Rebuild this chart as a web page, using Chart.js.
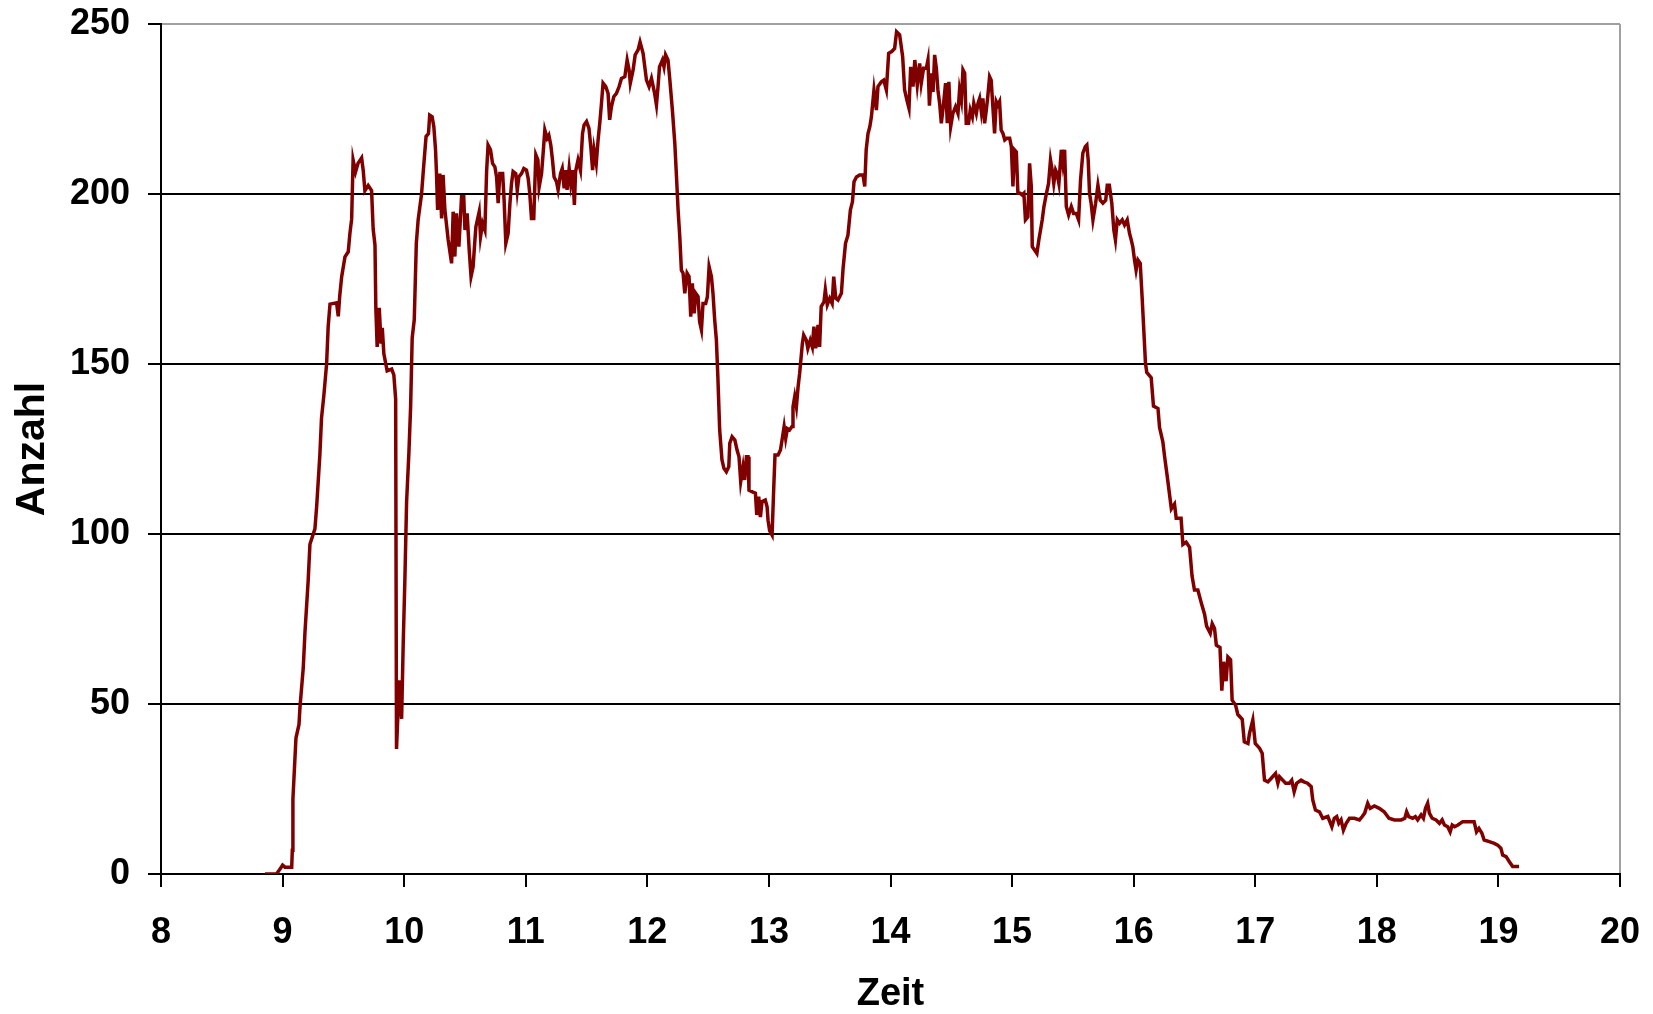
<!DOCTYPE html>
<html>
<head>
<meta charset="utf-8">
<script src="https://cdn.jsdelivr.net/npm/chart.js@4.4.1/dist/chart.umd.min.js"></script>
<style>
  html, body { margin: 0; padding: 0; background: #fff; overflow: hidden; }
  #wrap { width: 1653px; height: 1014px; position: relative; }
  canvas { display: block; }
</style>
</head>
<body>
<div id="wrap"><canvas id="c"></canvas></div>
<script>
// Zeit (hours) and Anzahl values
const zeit = [
8.855,8.95,8.97,9.0,9.02,9.075,9.08,9.085,9.11,9.135,9.143,9.17,9.184,9.21,9.225,9.266,9.28,9.307,9.32,9.34,
9.362,9.375,9.39,9.444,9.458,9.47,9.486,9.513,9.54,9.554,9.568,9.58,9.6,9.62,9.65,9.663,9.677,9.704,9.732,9.745,
9.76,9.767,9.778,9.795,9.81,9.82,9.833,9.86,9.897,9.915,9.93,9.937,9.96,9.979,9.992,10.006,10.02,10.039,10.053,10.066,
10.083,10.1,10.115,10.143,10.157,10.18,10.2,10.21,10.23,10.244,10.258,10.266,10.275,10.293,10.308,10.32,10.335,10.362,10.39,10.403,
10.417,10.43,10.45,10.472,10.49,10.5,10.518,10.535,10.55,10.567,10.58,10.59,10.617,10.628,10.645,10.664,10.678,10.69,10.71,10.727,
10.746,10.76,10.773,10.787,10.81,10.822,10.836,10.855,10.87,10.883,10.896,10.918,10.93,10.943,10.965,10.984,11.006,11.02,11.033,11.047,
11.066,11.075,11.083,11.1,11.11,11.13,11.143,11.157,11.176,11.19,11.206,11.22,11.233,11.253,11.266,11.286,11.3,11.316,11.33,11.34,
11.357,11.37,11.385,11.4,11.41,11.43,11.45,11.467,11.48,11.5,11.52,11.535,11.55,11.562,11.58,11.595,11.61,11.623,11.636,11.658,
11.677,11.69,11.705,11.724,11.746,11.768,11.787,11.815,11.834,11.85,11.86,11.883,11.9,11.924,11.94,11.965,11.993,12.014,12.034,12.06,
12.075,12.088,12.1,12.124,12.137,12.15,12.17,12.184,12.206,12.226,12.24,12.253,12.267,12.28,12.294,12.308,12.327,12.343,12.357,12.37,
12.385,12.398,12.417,12.43,12.445,12.458,12.48,12.494,12.508,12.527,12.54,12.554,12.568,12.58,12.595,12.614,12.63,12.65,12.67,12.678,
12.697,12.72,12.738,12.754,12.768,12.787,12.8,12.815,12.828,12.836,12.864,12.889,12.9,12.916,12.93,12.943,12.97,12.985,12.993,13.006,
13.026,13.04,13.05,13.075,13.095,13.11,13.125,13.138,13.152,13.17,13.19,13.198,13.212,13.226,13.24,13.253,13.275,13.286,13.308,13.32,
13.34,13.357,13.37,13.385,13.404,13.417,13.43,13.453,13.464,13.48,13.5,13.52,13.533,13.55,13.568,13.596,13.61,13.63,13.65,13.67,
13.687,13.7,13.72,13.746,13.774,13.788,13.8,13.815,13.83,13.843,13.864,13.884,13.897,13.925,13.944,13.966,13.985,14.01,14.034,14.05,
14.075,14.1,14.116,14.135,14.152,14.166,14.185,14.2,14.22,14.24,14.253,14.272,14.295,14.308,14.32,14.336,14.35,14.363,14.377,14.39,
14.404,14.418,14.437,14.453,14.467,14.48,14.495,14.513,14.535,14.555,14.568,14.583,14.596,14.61,14.623,14.642,14.656,14.673,14.685,14.706,
14.72,14.733,14.747,14.76,14.774,14.788,14.8,14.815,14.828,14.84,14.856,14.87,14.883,14.897,14.91,14.925,14.94,14.957,14.98,14.994,
15.007,15.02,15.035,15.048,15.067,15.084,15.097,15.11,15.13,15.144,15.158,15.166,15.185,15.204,15.22,15.234,15.248,15.262,15.28,15.3,
15.316,15.33,15.343,15.358,15.37,15.385,15.405,15.418,15.432,15.446,15.465,15.487,15.506,15.528,15.547,15.563,15.582,15.602,15.615,15.626,
15.637,15.65,15.665,15.687,15.706,15.725,15.747,15.77,15.783,15.8,15.82,15.837,15.85,15.865,15.884,15.906,15.925,15.947,15.966,15.98,
15.993,16.007,16.02,16.035,16.054,16.07,16.083,16.097,16.108,16.144,16.163,16.2,16.213,16.24,16.254,16.28,16.295,16.31,16.336,16.35,
16.39,16.405,16.432,16.46,16.48,16.5,16.528,16.555,16.583,16.6,16.63,16.646,16.665,16.68,16.71,16.725,16.74,16.76,16.775,16.797,
16.81,16.838,16.857,16.893,16.91,16.94,16.953,16.98,17.0,17.035,17.057,17.076,17.104,17.13,17.167,17.186,17.2,17.226,17.25,17.28,
17.3,17.32,17.34,17.377,17.4,17.43,17.46,17.473,17.495,17.528,17.555,17.597,17.63,17.65,17.67,17.687,17.706,17.725,17.748,17.775,
17.816,17.857,17.88,17.9,17.925,17.945,17.98,18.02,18.06,18.1,18.144,18.2,18.23,18.245,18.262,18.295,18.317,18.336,18.364,18.383,
18.4,18.418,18.432,18.455,18.487,18.515,18.537,18.556,18.583,18.603,18.62,18.64,18.667,18.706,18.76,18.8,18.82,18.84,18.864,18.883,
18.925,18.966,18.994,19.02,19.035,19.063,19.09,19.117,19.17
];
const anzahl = [
0,0,1,2.6,2,2,7,22,40,44,49,60.6,71,86,97,101.5,108,123.5,134,141,
150,161,167.6,168,164,170,175.7,181.5,183,188.5,192.6,210,206.5,209,210.6,207,201,202.5,201,189.7,
185,166.5,155,166.5,156,160.6,153,148,148.5,146.8,139.7,36.8,57,45.6,67.6,86.8,109.5,124,137.4,157.7,
163,185.5,192.4,200,206.6,216.9,217.8,223.2,222.7,219.8,213,206,195.3,206,192.8,205.6,195.3,186.5,179.6,194.8,
181.6,194.3,184.5,199.2,199.2,189.4,194.3,183.5,175.7,178.6,185.5,190.4,194.8,187.4,191.4,189.4,206.6,214.4,213,209,
208,205,197.3,206,206,198.2,185.5,188.4,197.3,203.1,206.6,206,201,205,206,207.5,207,204.6,200.2,192.8,
192.8,203.1,211.5,210,202,206,212,218.8,216.4,217.3,214.4,210,205,203.6,201.2,206,207.5,201.7,207,201.2,
207.5,203.1,207,196.8,206.6,210,207,217.8,220.3,221.3,219.3,213.9,207,213,209,215.9,221.3,226.7,232.6,231.6,
229.6,221.8,225.7,228.6,229.6,231.6,234,234.5,239.4,236.5,232.6,236.5,240.9,242.4,244.7,241.4,233.5,231.6,234,229.6,
226.2,231.6,237.4,239.4,237.4,240.9,239.4,234,224.7,214.9,205,195.3,187.4,177.6,176.7,170.8,176.7,175.7,163.9,173.7,
164.9,170.8,169.8,162.4,160,167.8,167.8,169.8,178.6,175.7,170.8,163,157,146.3,130.6,121.8,119.3,118.3,119.8,126.7,
128.6,127.6,124.7,122.7,115.4,119.8,115.9,122.7,122.7,112.9,112.4,112,105.6,111,105,109.5,110,108,104,101,
99.7,113.9,123.2,123.2,124.7,128.1,131.6,128.1,131,130.6,131.6,137.4,140.4,137.4,143.3,147.3,156,158.5,157,154.6,
157,155,161,154.6,161.5,155,166.9,168.3,171.8,167.4,169.3,167.8,175.7,169.3,168.8,170.8,178.1,185.5,187.9,195.3,
197.7,203.6,205,205.6,205.6,202.2,213,217.8,219.8,222.7,230.6,224.7,231.6,233,233.5,230.6,241.4,241.9,242.8,247.7,
246.8,240.4,230.6,227.6,225.2,237.4,231.6,239.4,232,238.4,232.6,237,237,239.4,226,235.5,230,240.9,237,230.6,
226.7,220.8,226.7,232.6,220.8,233,219.8,223.7,225.7,223.7,230.6,227.6,236.5,235.5,220.8,220.8,224.7,222.7,226.7,223.7,
226.7,228.1,224.2,228.1,220.8,224.7,228.6,234.5,233.5,226.7,217.8,227.2,226.2,227.2,218.8,217.8,215.9,216.4,216.4,213.9,
202.2,213,212.4,200.2,200.2,199.7,200.2,192.4,193.3,209,202.2,184.5,183.5,182.5,186.5,189.4,192.4,196.3,199.7,203.1,
210,207,203.1,207,206,203.1,213,209,213,196.3,193.8,196.3,194.3,194.3,192.4,204.1,212,213.9,214.4,210,
200.2,197.3,192.4,197.3,202.6,198.2,197.3,198.2,202.6,202.6,197.3,189.4,186.5,192.4,191.4,192.4,190.9,192.4,188.4,186.5,
184.5,180.6,177.6,180.6,179.6,169.3,160.2,150.3,147.5,146,137.6,136.9,131.3,127.1,122.9,115.9,111.6,107.4,108.8,104.6,
104.6,96.9,97.6,96.1,87.7,83.5,83.5,79.9,76.4,72.9,70.8,73.6,72.2,67.3,66.6,53.9,62.4,56.7,63.8,63,
51.1,49.7,46.9,45.5,38.9,38.4,41.4,45.3,38.4,37,35.5,27.6,27.1,28.1,29.6,26.7,28.6,27.6,26.7,26.7,
27.6,24.2,26.7,27.6,27.1,26.7,25.7,21.8,18.8,18.3,16.4,16.9,13.9,16.4,16.9,14.9,15.9,12.9,14.9,16.4,
16.4,15.9,16.9,17.9,20.8,19.3,20,19.3,18.3,16.4,15.9,15.9,16.4,18.3,16.9,16.4,16.9,15.9,17.4,16.4,
19.3,20.8,17.9,16.4,15.9,14.9,15.9,14.4,13.9,12.4,14.4,13.9,14.4,15.4,15.4,15.4,12.4,13.4,12,10,
9.5,9,8.5,7.6,5.6,5.1,3.6,2.2,2.2
];
const xTickMin = 8, xTickMax = 20, xTickStep = 1;
const yTickMin = 0, yTickMax = 250, yTickStep = 50;
const xTitle = 'Zeit';
const yTitle = 'Anzahl';

const points = zeit.map((t, i) => ({ x: t, y: anzahl[i] }));
const fontFamily = '"Liberation Sans", Arial, sans-serif';

new Chart(document.getElementById('c'), {
  type: 'line',
  data: {
    datasets: [{
      data: points,
      borderColor: '#800000',
      borderWidth: 3.5,
      pointRadius: 0,
      tension: 0,
      fill: false
    }]
  },
  options: {
    responsive: true,
    maintainAspectRatio: false,
    animation: false,
    events: [],
    layout: { padding: { top: 24, right: 33, left: 0, bottom: 0 } },
    plugins: { legend: { display: false }, tooltip: { enabled: false } },
    scales: {
      x: {
        type: 'linear',
        min: xTickMin, max: xTickMax,
        ticks: { stepSize: xTickStep, color: '#000', padding: 10, maxRotation: 0,
                 font: { family: fontFamily, size: 36, weight: 'bold', lineHeight: 2.0 } },
        grid: {
          drawOnChartArea: true,
          color: (ctx) => (ctx.tick && ctx.tick.value === xTickMax) ? '#a0a0a0' : 'rgba(0,0,0,0)',
          lineWidth: 2,
          tickColor: '#000',
          tickLength: 13
        },
        border: { color: '#000', width: 2 },
        title: { display: true, text: xTitle, color: '#000',
                 font: { family: fontFamily, size: 38, weight: 'bold', lineHeight: 1.0 },
                 padding: { top: 0, bottom: 0 } },
        afterFit: (s) => { s.height = 140; }
      },
      y: {
        min: yTickMin, max: yTickMax,
        ticks: { stepSize: yTickStep, color: '#000', padding: 18,
                 font: { family: fontFamily, size: 36, weight: 'bold', lineHeight: 0.2 } },
        grid: {
          color: (ctx) => (ctx.tick && ctx.tick.value === yTickMax) ? '#a0a0a0' : '#000',
          lineWidth: 2,
          tickColor: '#000',
          tickLength: 13
        },
        border: { color: '#000', width: 2 },
        title: { display: true, text: yTitle, color: '#000',
                 font: { family: fontFamily, size: 41, weight: 'bold', lineHeight: 1.1 },
                 padding: { top: 10, bottom: 0 } },
        afterFit: (s) => { s.width = 161; }
      }
    }
  }
});
</script>
</body>
</html>
